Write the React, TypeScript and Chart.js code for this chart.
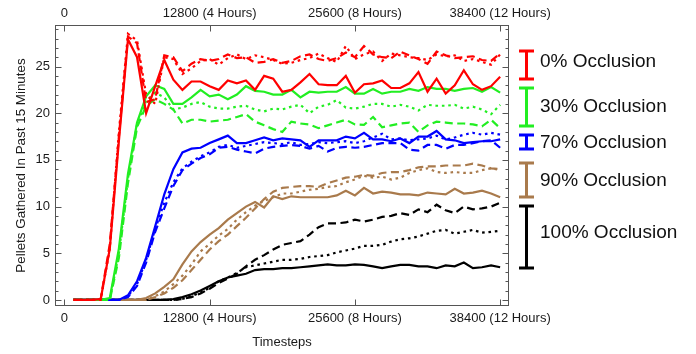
import React, { useEffect, useRef } from "react";
import { Chart, registerables } from "chart.js";

Chart.register(...registerables);

// ---------------- data ----------------
const timesteps = [
  800, 1600, 2400, 3200, 4000, 4800, 5600, 6400, 7200, 8000, 8800, 9600,
  10400, 11200, 12000, 12800, 13600, 14400, 15200, 16000, 16800, 17600, 18400, 19200,
  20000, 20800, 21600, 22400, 23200, 24000, 24800, 25600, 26400, 27200, 28000, 28800,
  29600, 30400, 31200, 32000, 32800, 33600, 34400, 35200, 36000, 36800, 37600, 38400,
];

const redSolid = [0, 0, 0, 0.1, 5.5, 17, 27.9, 26.0, 20.0, 22.9, 25.7, 23.6, 22.5, 23.4, 23.4, 22.9, 22.5, 23.5, 23.2, 23.5, 22.5, 24.0, 23.7, 22.3, 22.5, 23.3, 24.2, 23.1, 23.0, 23.0, 24.0, 22.2, 23.1, 23.2, 23.5, 22.7, 22.7, 23.2, 24.4, 22.3, 23.7, 22.1, 23.0, 24.6, 23.1, 22.5, 22.9, 23.9];
const redDashed = [0, 0, 0, 0.1, 6, 17.5, 28.2, 27.5, 21.2, 21.5, 26.2, 26.0, 24.5, 25.3, 25.8, 25.6, 25.8, 26.3, 25.9, 26.0, 25.4, 25.5, 25.8, 25.4, 25.6, 26.1, 26.3, 25.8, 25.6, 25.9, 26.5, 26.0, 27.2, 26.3, 26.0, 25.9, 26.6, 26.2, 25.8, 25.3, 26.6, 26.2, 25.9, 26.0, 26.1, 25.7, 25.6, 26.4];
const redDotted = [0, 0, 0, 0, 5.5, 18, 28.5, 27.8, 22.0, 21.0, 26.0, 25.8, 24.2, 24.8, 25.6, 25.8, 25.2, 25.9, 26.3, 25.8, 26.2, 26.0, 25.7, 25.3, 25.4, 25.7, 25.9, 26.4, 25.9, 25.5, 27.2, 25.8, 26.3, 26.6, 25.6, 26.4, 26.2, 26.0, 25.9, 25.7, 26.3, 26.1, 26.2, 25.6, 25.8, 25.5, 25.2, 26.3];

const greenSolid = [0, 0, 0, 0, 0.2, 5.5, 13.5, 19.0, 21.8, 23.0, 22.6, 21.0, 21.0, 21.7, 22.5, 21.8, 22.0, 21.5, 22.0, 22.9, 22.4, 22.3, 22.0, 22.0, 22.5, 21.7, 22.3, 22.2, 22.3, 22.3, 22.8, 22.1, 22.1, 22.6, 22.1, 22.3, 22.3, 22.6, 22.4, 22.8, 22.6, 22.6, 22.4, 22.6, 22.7, 22.3, 22.8, 22.2];
const greenDashed = [0, 0, 0, 0, 0, 4.5, 12.5, 18.5, 20.8, 21.5, 21.0, 20.4, 18.9, 19.3, 19.3, 19.1, 19.2, 19.3, 19.6, 19.9, 19.1, 18.7, 18.3, 18.0, 19.1, 18.9, 18.8, 18.4, 18.7, 19.0, 19.3, 18.8, 18.75, 19.6, 18.5, 18.7, 18.9, 19.0, 18.0, 18.7, 19.1, 19.0, 18.9, 18.9, 18.8, 18.6, 19.3, 18.4];
const greenDotted = [0, 0, 0, 0, 0, 5.0, 13.0, 18.8, 21.3, 22.2, 21.7, 20.4, 20.6, 21.0, 21.2, 20.7, 20.5, 20.5, 20.7, 20.8, 20.4, 20.2, 20.5, 20.4, 20.7, 20.9, 20.0, 20.7, 20.9, 21.4, 20.6, 20.5, 20.7, 21.0, 21.0, 20.7, 20.9, 20.7, 20.3, 20.9, 20.8, 20.8, 20.9, 20.5, 20.7, 20.4, 19.9, 20.9];

const blueSolid = [0, 0, 0, 0, 0, 0, 0.5, 2.0, 4.5, 7.9, 11.3, 14.0, 15.8, 16.2, 16.3, 16.8, 17.2, 17.6, 16.8, 16.8, 17.1, 17.4, 17.1, 17.3, 17.2, 17.1, 16.4, 17.1, 17.1, 17.1, 17.5, 17.3, 17.9, 17.2, 17.2, 17.0, 17.3, 16.8, 17.5, 17.5, 18.1, 17.2, 17.1, 16.8, 16.9, 17.0, 17.0, 17.2];
const blueDashed = [0, 0, 0, 0, 0, 0, 0.3, 1.5, 4.0, 7.3, 9.8, 12.2, 13.9, 14.6, 15.2, 15.6, 16.3, 16.4, 16.1, 15.9, 15.7, 16.2, 16.4, 16.5, 16.6, 16.5, 16.2, 16.5, 15.9, 16.3, 16.4, 16.3, 16.4, 16.6, 16.8, 16.8, 16.8, 16.1, 16.0, 16.6, 16.6, 16.2, 16.6, 16.6, 16.8, 17.0, 17.1, 16.3];
const blueDotted = [0, 0, 0, 0, 0, 0, 0.4, 1.7, 4.3, 7.6, 10.4, 12.6, 14.1, 14.8, 15.4, 15.8, 16.4, 16.6, 16.3, 16.5, 16.7, 16.9, 16.8, 16.7, 16.9, 16.6, 16.7, 16.9, 16.8, 16.9, 17.0, 16.8, 17.0, 17.4, 17.8, 17.2, 17.3, 17.1, 17.2, 17.3, 17.6, 17.2, 17.4, 17.7, 17.9, 17.7, 17.9, 17.7];

const brownSolid = [0, 0, 0, 0, 0, 0, 0, 0, 0.2, 0.7, 1.4, 2.2, 3.8, 5.2, 6.2, 7.0, 7.7, 8.6, 9.3, 10.0, 10.5, 9.9, 11.1, 10.8, 11.1, 11.0, 11.0, 11.0, 11.0, 11.2, 11.7, 11.2, 12.0, 11.4, 11.6, 11.5, 11.3, 11.3, 11.2, 11.5, 11.4, 11.3, 11.9, 11.4, 11.5, 11.7, 11.4, 11.0];
const brownDashed = [0, 0, 0, 0, 0, 0, 0, 0, 0, 0.3, 0.7, 1.3, 2.1, 3.2, 4.3, 5.4, 6.3, 7.0, 7.9, 8.8, 9.8, 10.8, 11.6, 12.0, 12.1, 12.2, 12.2, 12.1, 12.5, 12.8, 13.1, 13.2, 13.4, 13.3, 13.6, 13.7, 13.7, 13.9, 14.2, 14.3, 14.3, 14.4, 14.4, 14.4, 14.6, 14.4, 14.1, 14.0];
const brownDotted = [0, 0, 0, 0, 0, 0, 0, 0, 0, 0.4, 0.9, 1.7, 2.6, 3.8, 5.2, 6.0, 6.9, 7.6, 8.6, 9.4, 10.1, 10.6, 11.0, 11.4, 11.4, 11.6, 11.8, 11.9, 12.1, 12.2, 12.6, 12.9, 13.3, 13.1, 13.2, 12.9, 13.1, 13.6, 13.9, 14.1, 13.7, 13.6, 13.7, 13.6, 13.6, 13.9, 14.1, 13.9];

const blackSolid = [0, 0, 0, 0, 0, 0, 0, 0, 0, 0, 0, 0.1, 0.3, 0.6, 1.0, 1.5, 2.0, 2.4, 2.6, 2.8, 3.2, 3.3, 3.3, 3.4, 3.4, 3.5, 3.6, 3.7, 3.8, 3.7, 3.7, 3.8, 3.75, 3.6, 3.4, 3.6, 3.75, 3.75, 3.6, 3.6, 3.4, 3.7, 3.6, 4.0, 3.4, 3.5, 3.7, 3.5];
const blackDashed = [0, 0, 0, 0, 0, 0, 0, 0, 0, 0, 0, 0, 0.1, 0.3, 0.7, 1.2, 1.8, 2.3, 2.8, 3.6, 4.3, 4.8, 5.4, 5.9, 6.1, 6.3, 7.0, 7.8, 8.2, 8.2, 8.3, 8.6, 8.4, 8.6, 8.9, 9.0, 9.3, 9.1, 9.7, 9.4, 10.2, 9.6, 9.3, 10.0, 9.7, 9.8, 10.0, 10.4];
const blackDotted = [0, 0, 0, 0, 0, 0, 0, 0, 0, 0, 0, 0, 0.1, 0.4, 0.8, 1.3, 2.0, 2.4, 2.9, 3.5, 3.7, 3.9, 4.1, 4.3, 4.3, 4.4, 4.6, 4.7, 4.8, 5.1, 5.3, 5.5, 5.8, 5.8, 5.9, 6.25, 6.5, 6.6, 6.8, 7.1, 7.4, 7.5, 7.1, 7.3, 7.5, 7.2, 7.3, 7.4];

const xTickValues = [0, 12800, 25600, 38400];
const xTickLabels = ["0", "12800 (4 Hours)", "25600 (8 Hours)", "38400 (12 Hours)"];
const yTickValues = [0, 5, 10, 15, 20, 25];
const yMinorTickValues = [1, 2, 3, 4, 6, 7, 8, 9, 11, 12, 13, 14, 16, 17, 18, 19, 21, 22, 23, 24, 26, 27, 28, 29];
const legendLabels = ["0% Occlusion", "30% Occlusion", "70% Occlusion", "90% Occlusion", "100% Occlusion"];

// ---------------- styles ----------------
const COLORS = ["#ff0000", "#22ee22", "#0000ff", "#a97a4c", "#000000"];
const FONT = "'Liberation Sans', Arial, Helvetica, sans-serif";
const X_MIN = -830;
const X_MAX = 39180;
const Y_MIN = -0.65;
const Y_MAX = 29.45;

const groups = [
  [redSolid, redDashed, redDotted],
  [greenSolid, greenDashed, greenDotted],
  [blueSolid, blueDashed, blueDotted],
  [brownSolid, brownDashed, brownDotted],
  [blackSolid, blackDashed, blackDotted],
];
const DASHES: number[][] = [[], [8, 4.5], [2.6, 3.8]];

// legend geometry (pixels): [top, bottom, label centre]
const LEGEND_GEOM = [
  [51, 79, 62],
  [88, 126, 107],
  [135, 149, 143],
  [163, 197, 180.5],
  [206, 268, 233],
];

const framePlugin = {
  id: "frameTicks",
  afterDraw(chart: any) {
    const { ctx, chartArea } = chart;
    const { left, right, top, bottom } = chartArea;
    const xs = chart.scales.x;
    const ys = chart.scales.y;
    ctx.save();
    ctx.strokeStyle = "#555555";
    ctx.lineWidth = 1;
    ctx.strokeRect(Math.round(left) + 0.5, Math.round(top) + 0.5, Math.round(right - left) - 1, Math.round(bottom - top) - 1);
    ctx.beginPath();
    const majLen = 6.5;
    const minLen = 3.5;
    for (const v of xTickValues) {
      const px = Math.round(xs.getPixelForValue(v)) + 0.5;
      ctx.moveTo(px, bottom);
      ctx.lineTo(px, bottom - majLen);
      ctx.moveTo(px, top);
      ctx.lineTo(px, top + majLen);
    }
    for (const v of yTickValues) {
      const py = Math.round(ys.getPixelForValue(v)) + 0.5;
      ctx.moveTo(left, py);
      ctx.lineTo(left + majLen, py);
      ctx.moveTo(right, py);
      ctx.lineTo(right - majLen, py);
    }
    for (const v of yMinorTickValues) {
      const py = Math.round(ys.getPixelForValue(v)) + 0.5;
      ctx.moveTo(left, py);
      ctx.lineTo(left + minLen, py);
      ctx.moveTo(right, py);
      ctx.lineTo(right - minLen, py);
    }
    ctx.stroke();

    // legend
    const cx = 526.5;
    const capHalf = 7.5;
    legendLabels.forEach((label, i) => {
      const [y1, y2, ly] = LEGEND_GEOM[i];
      ctx.strokeStyle = COLORS[i];
      ctx.lineWidth = 3;
      ctx.lineCap = "butt";
      ctx.beginPath();
      ctx.moveTo(cx, y1);
      ctx.lineTo(cx, y2);
      ctx.moveTo(cx - capHalf, y1);
      ctx.lineTo(cx + capHalf, y1);
      ctx.moveTo(cx - capHalf, y2);
      ctx.lineTo(cx + capHalf, y2);
      ctx.stroke();
      ctx.fillStyle = "#111111";
      ctx.font = `19px ${FONT}`;
      ctx.textAlign = "left";
      ctx.textBaseline = "middle";
      ctx.fillText(label, 540, ly);
    });
    ctx.restore();
  },
};

export default function App() {
  const ref = useRef<HTMLCanvasElement | null>(null);

  useEffect(() => {
    document.body.style.margin = "0";
    const canvas = ref.current;
    if (!canvas) return;

    const datasets: any[] = [];
    groups.forEach((grp, gi) => {
      grp.forEach((series, si) => {
        datasets.push({
          label: `${legendLabels[gi]} ${si}`,
          data: series.map((v, i) => ({ x: timesteps[i], y: v })),
          borderColor: COLORS[gi],
          backgroundColor: COLORS[gi],
          borderWidth: 2.2,
          borderDash: DASHES[si],
          pointRadius: 0,
          fill: false,
          tension: 0,
          xAxisID: "x",
          yAxisID: "y",
        });
      });
    });

    const tickFont = { family: FONT, size: 13 };
    const chart = new Chart(canvas, {
      type: "line",
      data: { datasets },
      options: {
        animation: false,
        responsive: false,
        maintainAspectRatio: false,
        layout: { padding: { left: 0, right: 187, top: 0, bottom: 0 } },
        plugins: { legend: { display: false }, tooltip: { enabled: false } },
        scales: {
          x: {
            type: "linear",
            position: "bottom",
            min: X_MIN,
            max: X_MAX,
            afterBuildTicks: (s: any) => {
              s.ticks = xTickValues.map((v) => ({ value: v }));
            },
            afterFit: (s: any) => {
              s.height = 48;
            },
            ticks: {
              autoSkip: false,
              maxRotation: 0,
              padding: 5,
              color: "#1a1a1a",
              font: tickFont,
              callback: (_v: any, i: number) => xTickLabels[i],
            },
            grid: { display: false, drawTicks: false },
            border: { display: false },
            title: {
              display: true,
              text: "Timesteps",
              color: "#1a1a1a",
              font: tickFont,
              padding: { top: 0, bottom: 4 },
            },
          },
          x2: {
            type: "linear",
            axis: "x",
            position: "top",
            min: X_MIN,
            max: X_MAX,
            afterBuildTicks: (s: any) => {
              s.ticks = xTickValues.map((v) => ({ value: v }));
            },
            afterFit: (s: any) => {
              s.height = 25;
            },
            ticks: {
              autoSkip: false,
              maxRotation: 0,
              padding: 4,
              color: "#1a1a1a",
              font: tickFont,
              callback: (_v: any, i: number) => xTickLabels[i],
            },
            grid: { display: false, drawTicks: false },
            border: { display: false },
          },
          y: {
            type: "linear",
            position: "left",
            min: Y_MIN,
            max: Y_MAX,
            afterBuildTicks: (s: any) => {
              s.ticks = yTickValues.map((v) => ({ value: v }));
            },
            afterFit: (s: any) => {
              s.width = 55;
            },
            ticks: {
              padding: 5,
              color: "#1a1a1a",
              font: tickFont,
            },
            grid: { display: false, drawTicks: false },
            border: { display: false },
            title: {
              display: true,
              text: "Pellets Gathered In Past 15 Minutes",
              color: "#1a1a1a",
              font: { family: FONT, size: 13.4 },
              padding: { top: 13, bottom: 0 },
            },
          },
        },
      } as any,
      plugins: [framePlugin],
    });

    return () => {
      chart.destroy();
    };
  }, []);

  return (
    <div style={{ width: 696, height: 354 }}>
      <canvas ref={ref} width={696} height={354} style={{ display: "block", width: 696, height: 354 }} />
    </div>
  );
}
